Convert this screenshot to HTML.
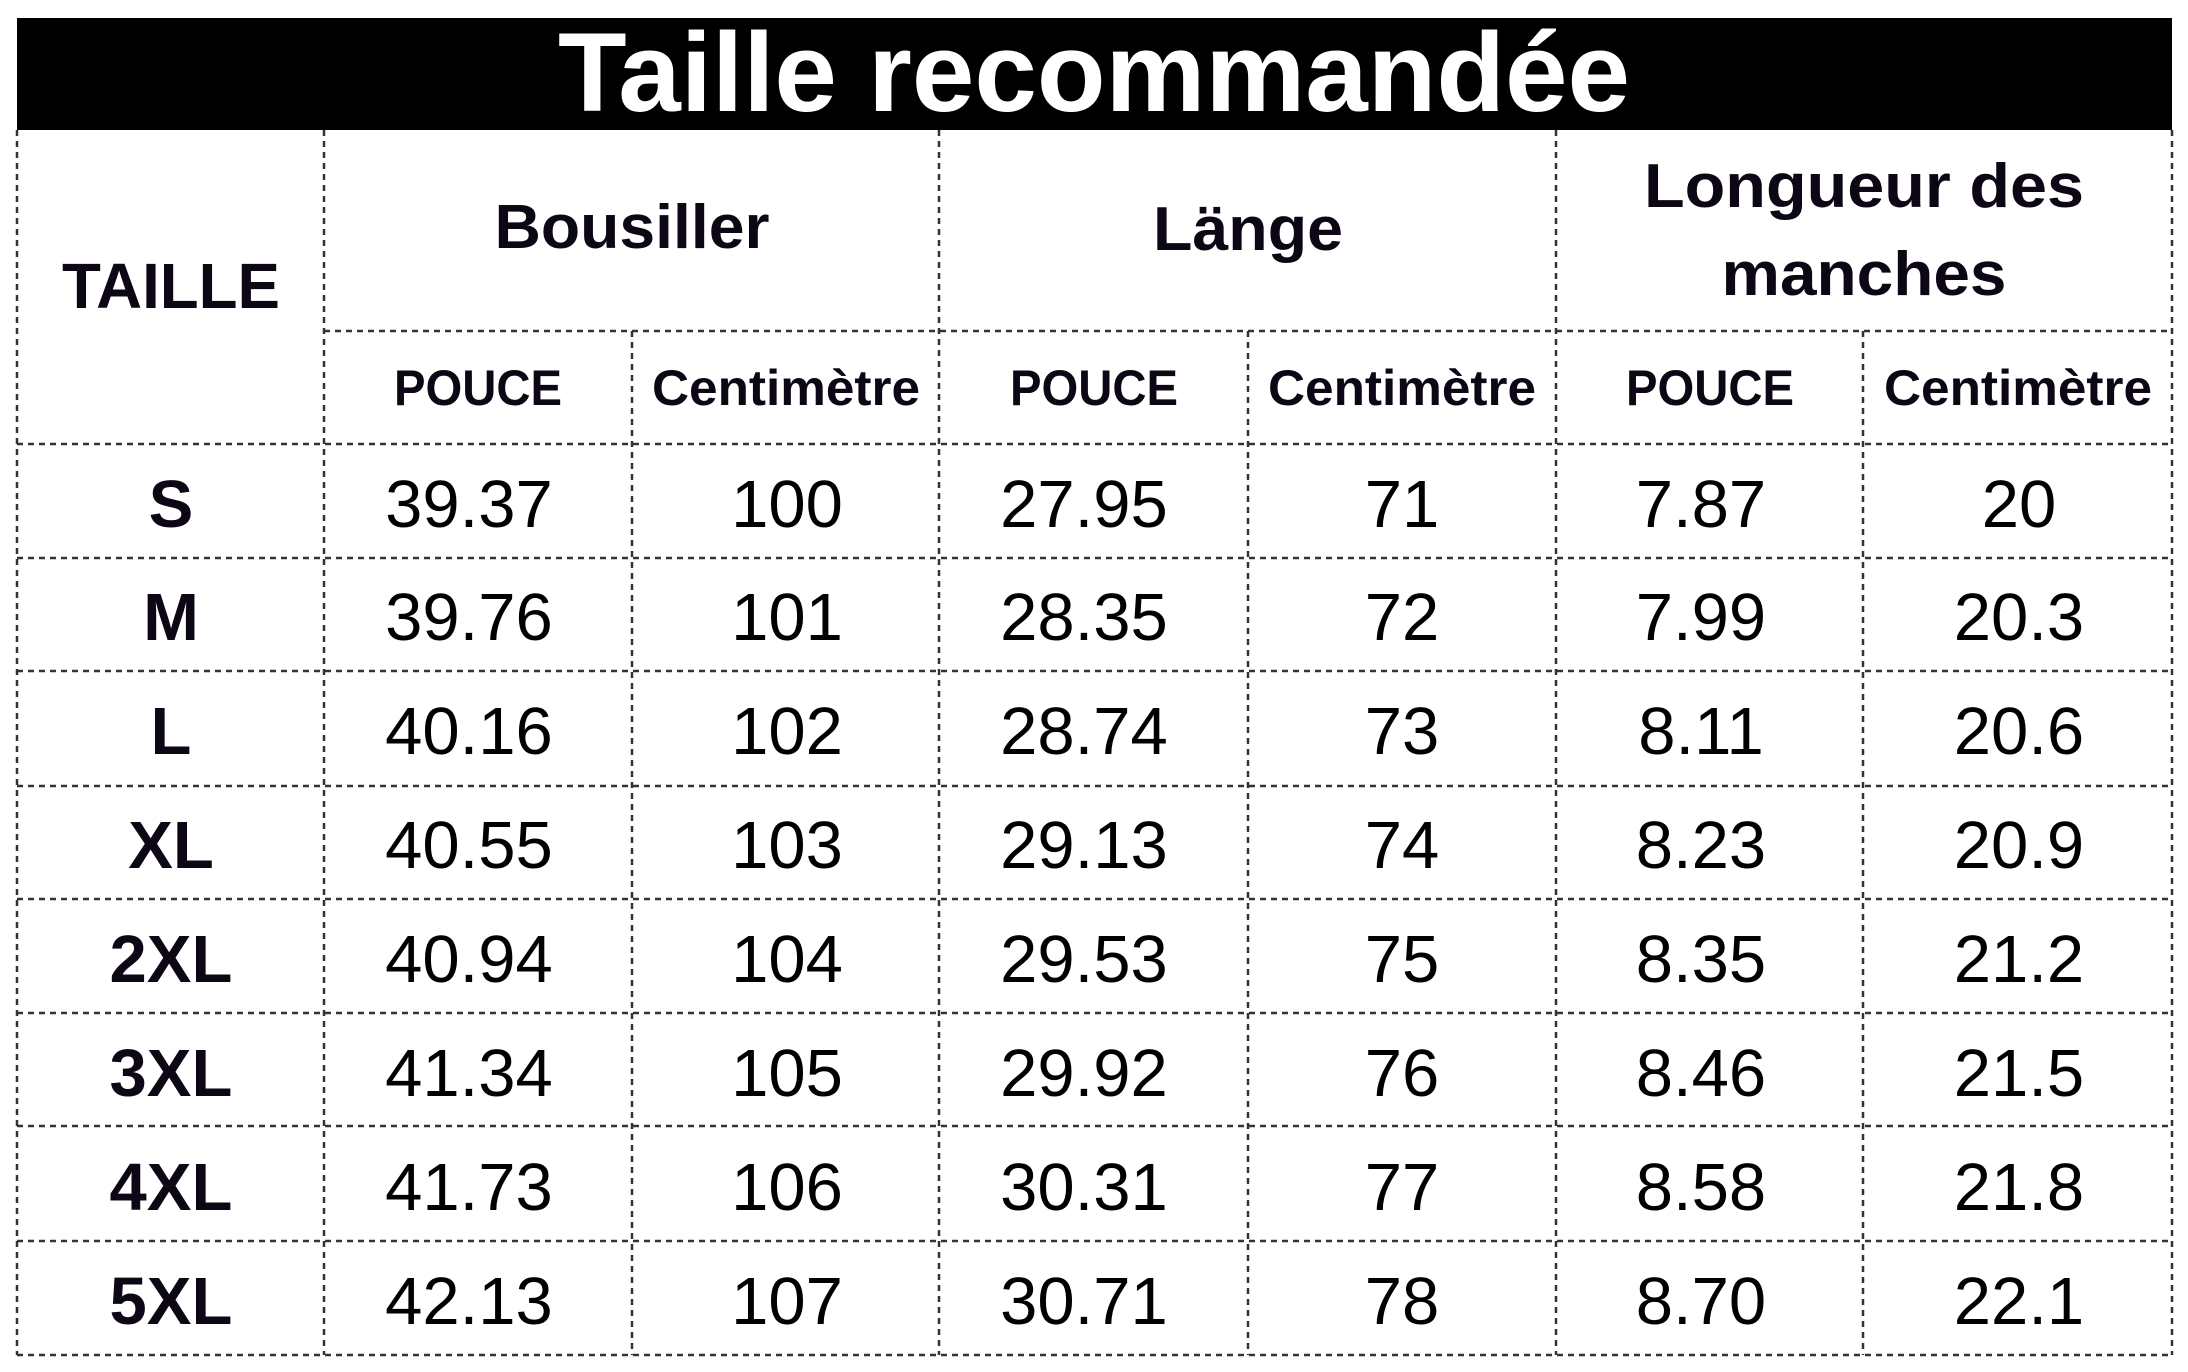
<!DOCTYPE html>
<html><head><meta charset="utf-8"><style>
html,body{margin:0;padding:0;background:#fff;}
svg{display:block;}
text{font-family:"Liberation Sans","DejaVu Sans",sans-serif;fill:#000;}
.b{font-weight:bold;fill:#0d0614;}
</style></head><body>
<svg width="2188" height="1372" viewBox="0 0 2188 1372" xmlns="http://www.w3.org/2000/svg">
<rect x="0" y="0" width="2188" height="1372" fill="#fff"/>
<rect x="17" y="18" width="2155" height="112" fill="#000"/>
<text x="1094" y="111" text-anchor="middle" font-size="112" font-weight="bold" style="fill:#fff" textLength="1072" lengthAdjust="spacingAndGlyphs">Taille recommandée</text>
<g stroke="#333" stroke-width="2.5" stroke-dasharray="6,5" fill="none">
<line x1="17" y1="130" x2="17" y2="1355"/>
<line x1="2172" y1="130" x2="2172" y2="1355"/>
<line x1="324" y1="130" x2="324" y2="1355"/>
<line x1="939" y1="130" x2="939" y2="1355"/>
<line x1="1556" y1="130" x2="1556" y2="1355"/>
<line x1="632" y1="331" x2="632" y2="1355"/>
<line x1="1248" y1="331" x2="1248" y2="1355"/>
<line x1="1863" y1="331" x2="1863" y2="1355"/>
<line x1="324" y1="331" x2="2172" y2="331"/>
<line x1="17" y1="444" x2="2172" y2="444"/>
<line x1="17" y1="558" x2="2172" y2="558"/>
<line x1="17" y1="671" x2="2172" y2="671"/>
<line x1="17" y1="786" x2="2172" y2="786"/>
<line x1="17" y1="899" x2="2172" y2="899"/>
<line x1="17" y1="1013" x2="2172" y2="1013"/>
<line x1="17" y1="1126" x2="2172" y2="1126"/>
<line x1="17" y1="1241" x2="2172" y2="1241"/>
<line x1="17" y1="1355" x2="2172" y2="1355"/>
</g>
<g class="b" text-anchor="middle">
<text class="b" x="171" y="308" font-size="64" textLength="218" lengthAdjust="spacingAndGlyphs">TAILLE</text>
<text class="b" x="632" y="248" font-size="62" textLength="275" lengthAdjust="spacingAndGlyphs">Bousiller</text>
<text class="b" x="1248" y="250" font-size="62" textLength="190" lengthAdjust="spacingAndGlyphs">Länge</text>
<text class="b" x="1864" y="207" font-size="62" textLength="440" lengthAdjust="spacingAndGlyphs">Longueur des</text>
<text class="b" x="1864" y="295" font-size="62" textLength="285" lengthAdjust="spacingAndGlyphs">manches</text>
<text class="b" x="478" y="405" font-size="50" textLength="168" lengthAdjust="spacingAndGlyphs">POUCE</text>
<text class="b" x="786" y="405" font-size="50" textLength="268" lengthAdjust="spacingAndGlyphs">Centimètre</text>
<text class="b" x="1094" y="405" font-size="50" textLength="168" lengthAdjust="spacingAndGlyphs">POUCE</text>
<text class="b" x="1402" y="405" font-size="50" textLength="268" lengthAdjust="spacingAndGlyphs">Centimètre</text>
<text class="b" x="1710" y="405" font-size="50" textLength="168" lengthAdjust="spacingAndGlyphs">POUCE</text>
<text class="b" x="2018" y="405" font-size="50" textLength="268" lengthAdjust="spacingAndGlyphs">Centimètre</text>
</g>
<g text-anchor="middle" font-size="67">
<text class="b" x="171" y="527">S</text><text x="469" y="527">39.37</text><text x="787" y="527">100</text><text x="1084" y="527">27.95</text><text x="1402" y="527">71</text><text x="1701" y="527">7.87</text><text x="2019" y="527">20</text>
<text class="b" x="171" y="640">M</text><text x="469" y="640">39.76</text><text x="787" y="640">101</text><text x="1084" y="640">28.35</text><text x="1402" y="640">72</text><text x="1701" y="640">7.99</text><text x="2019" y="640">20.3</text>
<text class="b" x="171" y="754">L</text><text x="469" y="754">40.16</text><text x="787" y="754">102</text><text x="1084" y="754">28.74</text><text x="1402" y="754">73</text><text x="1701" y="754">8.11</text><text x="2019" y="754">20.6</text>
<text class="b" x="171" y="868">XL</text><text x="469" y="868">40.55</text><text x="787" y="868">103</text><text x="1084" y="868">29.13</text><text x="1402" y="868">74</text><text x="1701" y="868">8.23</text><text x="2019" y="868">20.9</text>
<text class="b" x="171" y="982">2XL</text><text x="469" y="982">40.94</text><text x="787" y="982">104</text><text x="1084" y="982">29.53</text><text x="1402" y="982">75</text><text x="1701" y="982">8.35</text><text x="2019" y="982">21.2</text>
<text class="b" x="171" y="1096">3XL</text><text x="469" y="1096">41.34</text><text x="787" y="1096">105</text><text x="1084" y="1096">29.92</text><text x="1402" y="1096">76</text><text x="1701" y="1096">8.46</text><text x="2019" y="1096">21.5</text>
<text class="b" x="171" y="1210">4XL</text><text x="469" y="1210">41.73</text><text x="787" y="1210">106</text><text x="1084" y="1210">30.31</text><text x="1402" y="1210">77</text><text x="1701" y="1210">8.58</text><text x="2019" y="1210">21.8</text>
<text class="b" x="171" y="1324">5XL</text><text x="469" y="1324">42.13</text><text x="787" y="1324">107</text><text x="1084" y="1324">30.71</text><text x="1402" y="1324">78</text><text x="1701" y="1324">8.70</text><text x="2019" y="1324">22.1</text>
</g>
</svg>
</body></html>
